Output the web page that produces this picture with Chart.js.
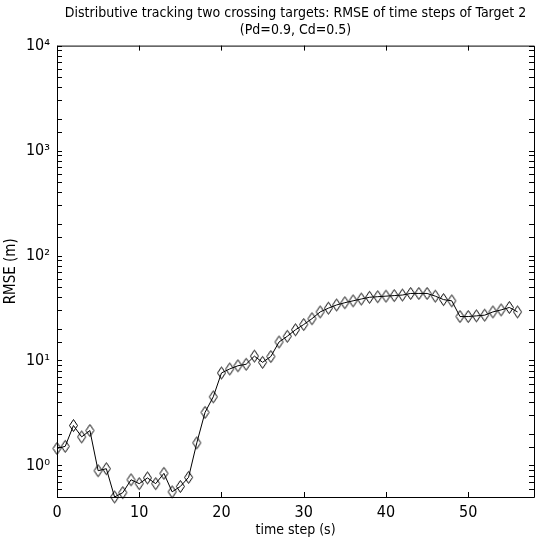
<!DOCTYPE html>
<html>
  <head>
    <title>RMSE of time steps of Target 2</title>
    <script src="https://cdn.jsdelivr.net/npm/chart.js"></script>
    <style>
      body {
        margin: 0;
        overflow: hidden;
        background: #fff;
      }
    </style>
  </head>
  <body>
    <canvas id="rmseChart" width="541" height="546"></canvas>
    <script>
      // values
      const timeSteps = [
        0, 1, 2, 3, 4, 5, 6, 7, 8, 9, 10, 11, 12, 13, 14, 15, 16, 17, 18, 19,
        20, 21, 22, 23, 24, 25, 26, 27, 28, 29, 30, 31, 32, 33, 34, 35, 36, 37,
        38, 39, 40, 41, 42, 43, 44, 45, 46, 47, 48, 49, 50, 51, 52, 53, 54, 55, 56,
      ];
      const rmse = [
        1.45, 1.52, 2.4, 1.87, 2.15, 0.89, 0.93, 0.5, 0.55, 0.73, 0.67, 0.76, 0.67,
        0.84, 0.56, 0.63, 0.77, 1.64, 3.2, 4.5, 7.6, 8.3, 8.9, 9.2, 11, 9.6, 10.9,
        15, 17, 19.6, 22, 25, 29, 31.5, 33.8, 35.5, 37, 38.5, 40, 40.5, 41, 41.5,
        42, 43.5, 43.5, 43.5, 41, 38, 37, 26.2, 26.2, 26.6, 27, 29, 30.3, 32, 29,
      ];
      const decades = [1, 10, 100, 1000, 10000];
      const decadeLabels = ["10\u2070", "10\u00b9", "10\u00b2", "10\u00b3", "10\u2074"];

      const fontFamily = "'Liberation Sans Narrow', 'DejaVu Sans Condensed', Arial, sans-serif";

      // open diamond marker, a bit taller than wide like matlab's
      const diamond = document.createElement("canvas");
      diamond.width = 11;
      diamond.height = 15;
      const dctx = diamond.getContext("2d");
      dctx.strokeStyle = "#000";
      dctx.lineWidth = 1;
      dctx.beginPath();
      dctx.moveTo(5.5, 1.5);
      dctx.lineTo(9.5, 7.5);
      dctx.lineTo(5.5, 13.5);
      dctx.lineTo(1.5, 7.5);
      dctx.closePath();
      dctx.stroke();

      // box + inward ticks on all four sides
      const matlabBox = {
        id: "matlabBox",
        afterDatasetsDraw(chart) {
          const { ctx, chartArea: a, scales } = chart;
          const x = scales.x;
          const y = scales.y;
          ctx.save();
          ctx.strokeStyle = "#000";
          ctx.lineWidth = 1;
          ctx.beginPath();
          ctx.rect(a.left + 0.5, a.top + 0.5, a.right - a.left, a.bottom - a.top);
          x.ticks.forEach((t) => {
            const px = Math.round(x.getPixelForValue(t.value)) + 0.5;
            ctx.moveTo(px, a.bottom);
            ctx.lineTo(px, a.bottom - 5);
            ctx.moveTo(px, a.top);
            ctx.lineTo(px, a.top + 5);
          });
          y.ticks.forEach((t) => {
            const py = Math.round(y.getPixelForValue(t.value)) + 0.5;
            ctx.moveTo(a.left, py);
            ctx.lineTo(a.left + 5, py);
            ctx.moveTo(a.right, py);
            ctx.lineTo(a.right - 5, py);
          });
          ctx.stroke();
          ctx.restore();
        },
      };

      const ctx = document.getElementById("rmseChart").getContext("2d");
      const rmseChart = new Chart(ctx, {
        type: "line",
        data: {
          datasets: [
            {
              label: "Target 2",
              data: timeSteps.map((t, i) => ({ x: t, y: rmse[i] })),
              borderColor: "#000",
              borderWidth: 1,
              pointStyle: diamond,
              pointRadius: 6,
              tension: 0,
              clip: false,
            },
          ],
        },
        options: {
          responsive: false,
          animation: false,
          layout: { padding: 0 },
          plugins: {
            legend: { display: false },
            tooltip: { enabled: false },
            title: {
              display: true,
              fullSize: false,
              text: [
                "Distributive tracking two crossing targets: RMSE of time steps of Target 2",
                "(Pd=0.9, Cd=0.5)",
              ],
              color: "#000",
              font: { family: fontFamily, size: 14, weight: "normal", lineHeight: 1.2 },
              padding: { top: 5, bottom: 7 },
            },
          },
          scales: {
            x: {
              type: "linear",
              min: 0,
              max: 58,
              afterFit: (s) => {
                s.height = 49;
              },
              grid: { display: false, drawTicks: false },
              border: { display: false },
              ticks: {
                stepSize: 10,
                includeBounds: false,
                color: "#000",
                padding: 6,
                maxRotation: 0,
                font: { family: fontFamily, size: 16 },
              },
              title: {
                display: true,
                text: "time step (s)",
                color: "#000",
                font: { family: fontFamily, size: 14 },
                padding: { top: 0, bottom: 7 },
              },
            },
            y: {
              type: "logarithmic",
              min: 0.5,
              max: 10000,
              afterFit: (s) => {
                s.width = 57;
              },
              grid: { display: false, drawTicks: false },
              border: { display: false },
              ticks: {
                autoSkip: false,
                color: "#000",
                padding: 7,
                font: { family: fontFamily, size: 16 },
                callback: function (value) {
                  const i = decades.indexOf(value);
                  return i >= 0 ? decadeLabels[i] : "";
                },
              },
              title: {
                display: true,
                text: "RMSE (m)",
                color: "#000",
                font: { family: fontFamily, size: 15 },
                padding: { top: 2, bottom: 0 },
              },
            },
          },
        },
        plugins: [matlabBox],
      });
    </script>
  </body>
</html>
